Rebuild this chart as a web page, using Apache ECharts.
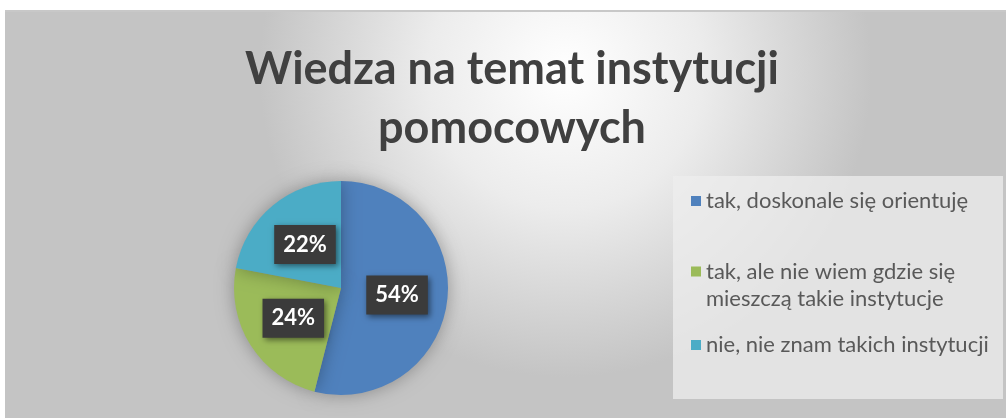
<!DOCTYPE html>
<html><head><meta charset="utf-8">
<script src="https://cdn.jsdelivr.net/npm/echarts@6/dist/echarts.min.js"></script>
<style>html,body{margin:0;padding:0;background:#fff}#c{width:1006px;height:418px}</style>
</head><body><div id="c"></div>
<script>
const titleLines = ['Wiedza na temat instytucji', 'pomocowych'];
const categories = ['tak, doskonale się orientuję', 'tak, ale nie wiem gdzie się\nmieszczą takie instytucje', 'nie, nie znam takich instytucji'];
const values = [54, 24, 22];
const colors = ['#4f81bd', '#9bbb59', '#4bacc6'];

const chart = echarts.init(document.getElementById('c'));
const font = 'Lato, sans-serif';
const legendTops = [184, 253, 328];
const legends = categories.map((c, i) => ({
  orient: 'vertical', left: 686, top: legendTops[i],
  data: [c],
  icon: i === 1 ? 'path://M0,0h10v10h-10z M0,36.9h0.1v0.1h-0.1z' : 'rect',
  itemWidth: 10, itemHeight: i === 1 ? 37 : 10, itemGap: 8,
  textStyle: { fontSize: 22, color: '#595959', fontFamily: font, lineHeight: i === 1 ? 27 : 24 },
  selectedMode: false
}));
chart.setOption({
  animation: false,
  graphic: [
    { type: 'rect', shape: { x: 5, y: 10, width: 1001, height: 408 }, z: -10,
      style: { fill: new echarts.graphic.RadialGradient(0.56, 0.15, 0.75, [
        { offset: 0, color: '#ffffff' }, { offset: 0.45, color: '#ececec' }, { offset: 1, color: '#c4c4c4' }]) } },
    { type: 'rect', shape: { x: 5, y: 10, width: 1001, height: 2 }, z: -9, style: { fill: '#c8c8c8' } },
    { type: 'rect', shape: { x: 673, y: 176, width: 330, height: 223 }, z: -8, style: { fill: 'rgba(238,238,238,0.75)' } }
  ],
  title: {
    text: titleLines.join('\n'), left: 507, textAlign: 'center', top: 35,
    textStyle: { fontSize: 45, fontWeight: 'bold', color: '#404040', fontFamily: font, lineHeight: 59 }
  },
  legend: legends,
  series: [{
    type: 'pie', center: [341, 288], radius: 107, startAngle: 90, clockwise: true,
    data: categories.map((c, i) => ({ name: c, value: values[i], itemStyle: { color: colors[i] } })),
    itemStyle: { shadowBlur: 18, shadowColor: 'rgba(0,0,0,0.3)' },
    label: {
      position: 'inside', formatter: '{d}%', color: '#fff', fontSize: 22, fontWeight: 'bold',
      fontFamily: font, backgroundColor: '#3b3b3b', padding: [9, 9, 8, 9],
      shadowBlur: 6, shadowColor: 'rgba(0,0,0,0.5)', shadowOffsetX: 2, shadowOffsetY: 2
    },
    labelLine: { show: false }
  }]
});
</script></body></html>
